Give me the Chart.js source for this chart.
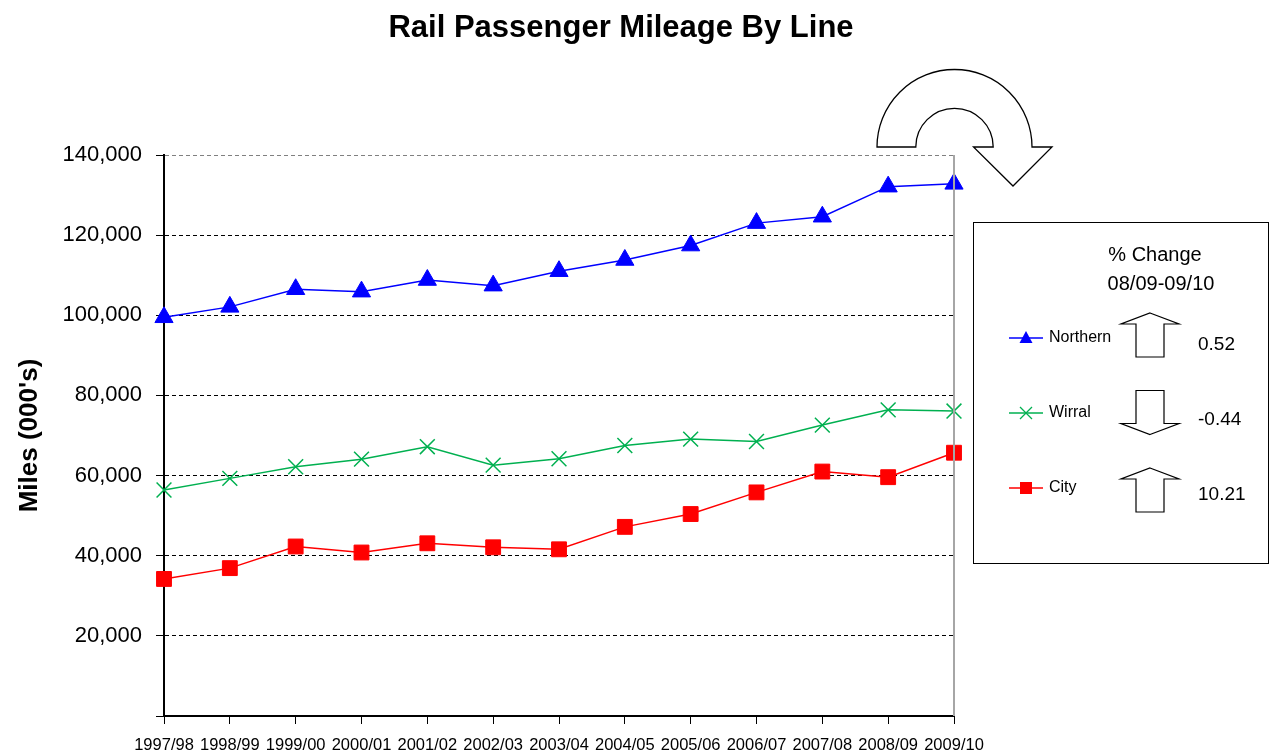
<!DOCTYPE html>
<html>
<head>
<meta charset="utf-8">
<script src="https://cdn.jsdelivr.net/npm/chart.js@4.4.0/dist/chart.umd.min.js"></script>
<style>
  html, body { margin: 0; padding: 0; background: #fff; }
  #wrap { width: 1273px; height: 756px; }
</style>
</head>
<body>
<div id="wrap"><canvas id="chart" width="1273" height="756"></canvas></div>
<script>
const chartTitle = 'Rail Passenger Mileage By Line';
const yAxisTitle = "Miles (000's)";
const years = ['1997/98', '1998/99', '1999/00', '2000/01', '2001/02', '2002/03', '2003/04',
  '2004/05', '2005/06', '2006/07', '2007/08', '2008/09', '2009/10'];
const northern = [99500, 102100, 106500, 105900, 108800, 107400, 111000, 113800, 117400, 123000, 124600, 132100, 132800];
const wirral = [56400, 59300, 62200, 64100, 67200, 62600, 64200, 67500, 69100, 68500, 72600, 76400, 76100];
const city = [34200, 36900, 42300, 40800, 43100, 42100, 41600, 47200, 50400, 55800, 61000, 59600, 65700];
const yTicks = [0, 20000, 40000, 60000, 80000, 100000, 120000, 140000];
const changeHeader = ['% Change', '08/09-09/10'];
const pctChange = ['0.52', '-0.44', '10.21'];

const FONT = '"Liberation Sans", Arial, sans-serif';
const font = (size, bold) => (bold ? 'bold ' : '') + size + 'px ' + FONT;

function marker(ctx, style, x, y, color) {
  ctx.save();
  ctx.fillStyle = color; ctx.strokeStyle = color; ctx.lineWidth = 1.3;
  ctx.beginPath();
  if (style === 'triangle') {
    ctx.moveTo(x, y - 7); ctx.lineTo(x + 6.5, y + 5); ctx.lineTo(x - 6.5, y + 5); ctx.closePath(); ctx.fill();
  } else if (style === 'rect') {
    ctx.rect(x - 6, y - 6, 12, 12); ctx.fill();
  } else {
    ctx.moveTo(x - 6, y - 6); ctx.lineTo(x + 6, y + 6);
    ctx.moveTo(x + 6, y - 6); ctx.lineTo(x - 6, y + 6); ctx.stroke();
  }
  ctx.restore();
}

function blockArrow(ctx, x, cy, up) {
  const d = up ? 1 : -1;
  const tip = cy - 22 * d, head = cy - 11 * d, base = cy + 22 * d;
  ctx.beginPath();
  ctx.moveTo(x, tip);
  ctx.lineTo(x + 29, head); ctx.lineTo(x + 14, head); ctx.lineTo(x + 14, base);
  ctx.lineTo(x - 14, base); ctx.lineTo(x - 14, head); ctx.lineTo(x - 29, head);
  ctx.closePath();
  ctx.fill(); ctx.stroke();
}

const decorations = {
  id: 'decorations',
  afterDraw(chart) {
    const { ctx, chartArea: a } = chart;
    ctx.save();

    // Title
    ctx.fillStyle = '#000';
    ctx.font = font(31, true);
    ctx.textAlign = 'center'; ctx.textBaseline = 'middle';
    ctx.fillText(chartTitle, 621, 28);

    // Right plot border
    ctx.strokeStyle = '#a6a6a6'; ctx.lineWidth = 2;
    ctx.beginPath(); ctx.moveTo(a.right, a.top); ctx.lineTo(a.right, a.bottom); ctx.stroke();

    // Curved arrow above the last year
    const cx = a.right + 0.5, by = a.top - 8;
    ctx.beginPath();
    ctx.moveTo(cx - 77.5, by);
    ctx.arc(cx, by, 77.5, Math.PI, 2 * Math.PI);
    ctx.lineTo(cx + 97.5, by);
    ctx.lineTo(cx + 58.5, by + 39);
    ctx.lineTo(cx + 19, by);
    ctx.lineTo(cx + 38.7, by);
    ctx.arc(cx, by, 38.7, 0, Math.PI, true);
    ctx.closePath();
    ctx.fillStyle = '#fff'; ctx.fill();
    ctx.strokeStyle = '#000'; ctx.lineWidth = 1.3; ctx.stroke();

    // Change box
    ctx.lineWidth = 1; ctx.strokeStyle = '#000';
    ctx.strokeRect(973.5, 222.5, 295, 341);
    ctx.fillStyle = '#000';
    ctx.font = font(20);
    ctx.fillText(changeHeader[0], 1155, 255);
    ctx.fillText(changeHeader[1], 1161, 284);

    chart.data.datasets.forEach((ds, i) => {
      const rowY = 338 + i * 75;
      ctx.strokeStyle = ds.borderColor; ctx.lineWidth = 1.3;
      ctx.beginPath(); ctx.moveTo(1009, rowY); ctx.lineTo(1043, rowY); ctx.stroke();
      marker(ctx, ds.pointStyle, 1026, rowY, ds.borderColor);
      ctx.fillStyle = '#000'; ctx.textAlign = 'left';
      ctx.font = font(16);
      ctx.fillText(ds.label, 1049, rowY);
      ctx.font = font(19);
      ctx.fillText(pctChange[i], 1198, rowY + 7);
      ctx.fillStyle = '#fff'; ctx.strokeStyle = '#000'; ctx.lineWidth = 1.2;
      blockArrow(ctx, 1150, 335 + i * 77.5, parseFloat(pctChange[i]) >= 0);
    });
    ctx.restore();
  }
};

new Chart(document.getElementById('chart'), {
  type: 'line',
  data: {
    labels: years,
    datasets: [
      { label: 'Northern', data: northern, borderColor: '#0000FF', backgroundColor: '#0000FF',
        borderWidth: 1.5, pointStyle: 'triangle', pointRadius: 10.5, pointBorderWidth: 1 },
      { label: 'Wirral', data: wirral, borderColor: '#00B050', backgroundColor: '#00B050',
        borderWidth: 1.5, pointStyle: 'crossRot', pointRadius: 10.5, pointBorderWidth: 1.5 },
      { label: 'City', data: city, borderColor: '#FF0000', backgroundColor: '#FF0000',
        borderWidth: 1.5, pointStyle: 'rect', pointRadius: 10.5, pointBorderWidth: 1 }
    ]
  },
  options: {
    responsive: false,
    animation: false,
    clip: false,
    layout: { padding: { top: 155, right: 319, bottom: 0, left: 0 } },
    plugins: { legend: { display: false }, title: { display: false }, tooltip: { enabled: false } },
    scales: {
      x: {
        offset: false,
        grid: { drawOnChartArea: false, drawTicks: true, tickLength: 8, color: '#000' },
        border: { color: '#000', width: 2 },
        ticks: { color: '#000', font: { family: FONT, size: 16.5 }, maxRotation: 0, autoSkip: false, padding: 12 },
        afterFit: s => { s.height = 40; }
      },
      y: {
        min: 0, max: 140000,
        afterBuildTicks: s => { s.ticks = yTicks.map(v => ({ value: v })); },
        grid: {
          color: c => c.tick && c.tick.value === 140000 ? '#808080' : '#000',
          tickColor: '#000', tickLength: 8, lineWidth: 1
        },
        border: { color: '#000', width: 2, dash: [4, 3] },
        ticks: {
          color: '#000', font: { family: FONT, size: 22 }, padding: 14,
          callback: v => v === 0 ? '' : v.toLocaleString('en-US')
        },
        title: { display: true, text: yAxisTitle, color: '#000', font: { family: FONT, size: 26, weight: 'bold' }, padding: { top: 14, bottom: 0 } },
        afterFit: s => { s.width = 164; }
      }
    }
  },
  plugins: [decorations]
});
</script>
</body>
</html>
